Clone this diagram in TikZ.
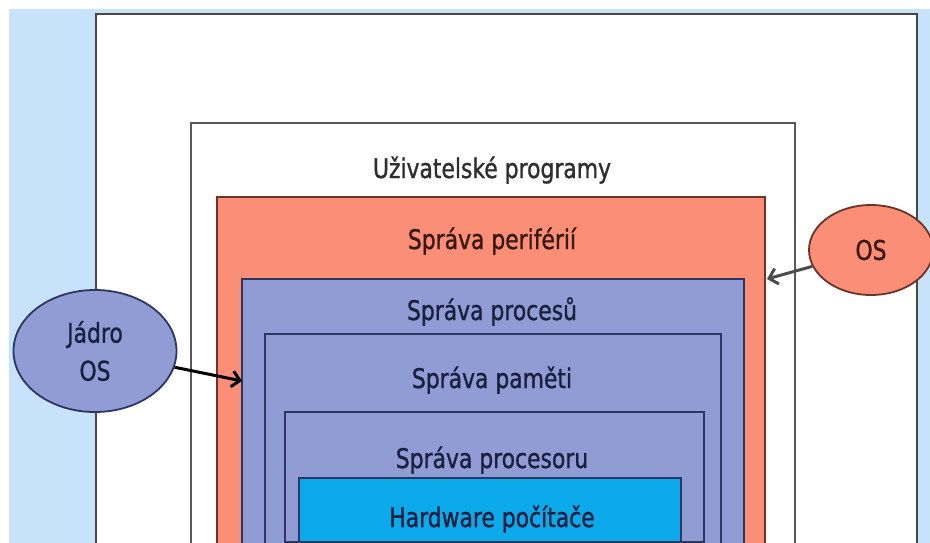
\documentclass[tikz,border=0pt]{standalone}
\usepackage{fontspec}
\setmainfont{DejaVu Sans}[FakeStretch=0.81,FakeBold=1.1]
\usetikzlibrary{shapes.geometric,arrows.meta}

\definecolor{slidebg}{RGB}{200,226,250}
\definecolor{periph}{RGB}{250,142,118}
\definecolor{kernel}{RGB}{146,156,212}
\definecolor{hwblue}{RGB}{12,170,235}
\definecolor{navytext}{RGB}{26,32,62}
\definecolor{browntext}{RGB}{58,24,18}
\definecolor{navyline}{RGB}{44,54,96}
\definecolor{brownline}{RGB}{105,52,42}

% left, right, top, bottom, fill, line
\newcommand\Layer[6]{%
    \filldraw[fill=#5,draw=#6,line width=2pt] (#1,#3) rectangle (#2,#4);
}
% name, baseline, colour, text
\newcommand\LayerText[4]{%
    \node[anchor=base,text=#3] (#1) at (492,#2) {#4};
}

\tikzset{
    oval/.style={ellipse,draw,line width=1.8pt,inner sep=0pt,align=center},
    pointer/.style={-{Straight Barb[length=8pt,width=16pt]},line width=3pt},
}

\begin{document}
\begin{tikzpicture}[x=1pt,y=-1pt,font=\fontsize{27}{38}\selectfont]
    \useasboundingbox (0,0) rectangle (930,543);
    \clip (0,0) rectangle (930,543);
    \fill[white] (0,0) rectangle (930,543);
    \fill[slidebg] (9,9) rectangle (930,543);
    % layers, outside in
    \Layer{96}{917}{14}{560}{white}{black!72}
    \Layer{191}{795}{123}{560}{white}{black!65}
    \Layer{217}{765}{197}{560}{periph}{brownline}
    \Layer{242}{744}{279}{560}{kernel}{navyline}
    \Layer{265}{721}{334}{560}{kernel}{navyline}
    \Layer{285}{704}{412}{542}{kernel}{navyline}
    \Layer{299}{681}{478}{542}{hwblue}{navyline}
    \LayerText{user}{178}{black!82}{Uživatelské programy}
    \LayerText{periph}{249}{browntext}{Správa periférií}
    \LayerText{proc}{320}{navytext}{Správa procesů}
    \LayerText{mem}{388}{navytext}{Správa paměti}
    \LayerText{cpu}{468}{navytext}{Správa procesoru}
    \LayerText{hw}{527}{navytext}{Hardware počítače}
    \begin{scope} % Jadro
        \node[oval,fill=kernel,draw=navyline,text=navytext,
              minimum width=163pt,minimum height=122pt] (jadro) at (95,351) {Jádro\\OS};
        \coordinate (jadroTip) at (242,381);
        \draw[pointer,black] (jadro) -- (jadroTip);
    \end{scope}
    \begin{scope} % OS
        \node[oval,fill=periph,draw=brownline,text=browntext,
              minimum width=124pt,minimum height=90pt] (os) at (871,250) {OS};
        \coordinate (osTip) at (767,279);
        \draw[pointer,black!70] (os) -- (osTip);
    \end{scope}
\end{tikzpicture}
\end{document}
